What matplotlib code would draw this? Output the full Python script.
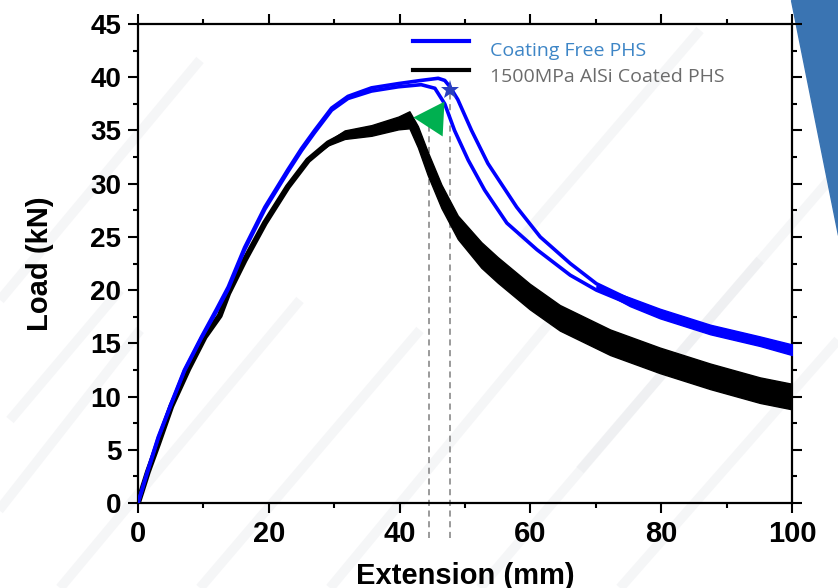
import matplotlib
matplotlib.use("Agg")
import numpy as np
import matplotlib.pyplot as plt
from matplotlib.ticker import MultipleLocator
from matplotlib.lines import Line2D
from matplotlib.patches import Polygon

plt.rcParams["font.family"] = ["Liberation Sans", "DejaVu Sans"]

# coating free PHS, specimen A (later peak) and B (earlier drop)
blue_a_x = [0, 1.5, 3.1, 5.1, 7.1, 9.7, 12.0, 13.8, 16.3, 19.4, 22.9, 25.0, 27.0, 29.6, 32.1,
            35.7, 39.8, 43.3, 45.9, 46.9, 47.7, 48.9, 51.0, 53.5, 55.0, 57.9, 61.5, 66.1,
            70.1, 75.2, 79.8, 87.5, 95.1, 100]
blue_a_y = [0, 3.1, 6.2, 9.4, 12.5, 15.6, 18.2, 20.3, 24.0, 27.8, 31.3, 33.3, 35.0, 37.1, 38.2,
            39.0, 39.4, 39.7, 39.9, 39.7, 39.1, 37.9, 35.0, 31.9, 30.5, 27.8, 25.0, 22.5,
            20.6, 19.1, 17.9, 16.5, 15.4, 14.5]
blue_b_x = [0, 1.5, 3.1, 5.1, 7.1, 9.7, 12.0, 13.8, 16.3, 19.4, 22.9, 25.0, 27.0, 29.6, 32.1,
            35.7, 39.8, 43.3, 45.4, 46.9, 48.4, 50.5, 53.0, 56.4, 61.0, 66.1, 70.1, 75.2,
            79.8, 87.5, 95.1, 100]
blue_b_y = [0, 3.0, 6.1, 9.3, 12.4, 15.5, 18.0, 20.1, 23.8, 27.6, 31.1, 33.1, 34.8, 36.9, 38.0,
            38.7, 39.1, 39.3, 38.96, 37.5, 35.0, 32.2, 29.4, 26.3, 23.8, 21.4, 20.0, 18.7,
            17.6, 16.1, 15.0, 14.2]
# noisy tail where both blue specimens merge
blue_tail_x = [70.1, 75.2, 79.8, 87.5, 95.1, 100]
blue_tail_y = [20.3, 18.9, 17.8, 16.3, 15.2, 14.4]
blue_tail_spread = [0.1, 0.4, 0.45, 0.45, 0.45, 0.5]

# 1500MPa AlSi coated PHS: mean trace and half width of the noisy band
black_x = [0, 1.5, 3.1, 5.1, 7.7, 10.2, 12.5, 13.8, 16.3, 19.4, 22.9, 26.0, 29.1, 31.6, 35.7,
           39.8, 41.5, 42.8, 44.3, 46.4, 48.9, 52.5, 55.0, 59.9, 64.5, 72.2, 79.8, 87.5,
           95.1, 100]
black_y = [0, 2.9, 5.6, 9.1, 12.6, 15.6, 17.6, 19.7, 22.8, 26.3, 29.7, 32.2, 33.8, 34.6, 35.0,
           35.7, 36.0, 34.4, 31.9, 28.8, 25.9, 23.3, 21.9, 19.4, 17.4, 15.1, 13.4, 11.9,
           10.6, 10.0]
black_spread = [0, 0, 0, 0, 0, 0, 0, 0, 0, 0, 0, 0, 0.2, 0.4, 0.5,
                0.6, 0.8, 1.0, 1.1, 1.1, 1.1, 1.2, 1.2, 1.2, 1.2, 1.2, 1.2, 1.2,
                1.2, 1.2]

# failure points
tri_x, tri_y = 45.1, 36.2
star_x, star_y = 47.7, 38.8
drop_lines_x = [44.5, 47.7]
drop_lines_top = [35.5, 38.8]

labels = ["Coating Free PHS", "1500MPa AlSi Coated PHS"]

fig = plt.figure(figsize=(8.38, 5.88), dpi=100)
W, H = 838, 588

# faint diagonal watermark stripes and the slide's blue corner
stripes = [(-40, 560, 140, 330), (60, 588, 300, 300), (200, 588, 420, 330), (330, 588, 560, 310),
           (480, 588, 700, 330), (620, 588, 838, 340), (0, 300, 200, 60), (520, 240, 700, 30),
           (700, 330, 838, 170), (860, 560, 960, 440), (10, 420, 120, 290), (580, 470, 760, 260)]
for x0, y0, x1, y1 in stripes:
    fig.add_artist(Line2D([x0 / W, x1 / W], [1 - y0 / H, 1 - y1 / H], transform=fig.transFigure,
                          color="#e4e6ea", lw=7, alpha=0.35, zorder=0, solid_capstyle="butt"))
fig.add_artist(Polygon([[791 / W, 1], [1, 1], [1, 1 - 235 / H]], closed=True,
                       transform=fig.transFigure, color="#3a74b2", zorder=0))

ax = fig.add_axes([138 / W, 1 - 503 / H, 654 / W, 479 / H])
ax.set_facecolor("none")

for xv, top in zip(drop_lines_x, drop_lines_top):
    ax.plot([xv, xv], [-3.3, top], color="#7f7f7f", lw=1.1, ls=(0, (4, 3)), clip_on=False, zorder=1)

bx = np.array(black_x)
by = np.array(black_y)
bs = np.array(black_spread)
ax.fill_between(bx, by - bs, by + bs, color="black", lw=1.0, zorder=2)
ax.plot(bx, by, color="black", lw=4.2, zorder=2, solid_joinstyle="round")

tx = np.array(blue_tail_x)
ty = np.array(blue_tail_y)
ts = np.array(blue_tail_spread)
ax.fill_between(tx, ty - ts, ty + ts, color="#0000ff", lw=1.0, zorder=3)
ax.plot(blue_b_x, blue_b_y, color="#0000ff", lw=2.6, zorder=3, solid_joinstyle="round")
ax.plot(blue_a_x, blue_a_y, color="#0000ff", lw=2.6, zorder=3, solid_joinstyle="round")

ax.plot([tri_x], [tri_y], marker=(3, 0, 87), ms=29, color="#00b050", mew=0, zorder=5)
ax.plot([star_x], [star_y], marker="*", ms=14, color="#2a3fbf", mew=0, zorder=6)

# legend drawn by hand: line above, text a little lower
ax.plot([0.4205, 0.506], [0.9645, 0.9645], transform=ax.transAxes, color="#0000ff", lw=3)
ax.plot([0.4205, 0.506], [0.904, 0.904], transform=ax.transAxes, color="black", lw=3)
ax.text(0.538, 0.9436, labels[0], transform=ax.transAxes, color="#3d85c6", fontsize=14,
        va="center", ha="left", family=["Open Sans", "DejaVu Sans"])
ax.text(0.538, 0.889, labels[1], transform=ax.transAxes, color="#6b6b6b", fontsize=14,
        va="center", ha="left", family=["Open Sans", "DejaVu Sans"])

ax.set_xlim(0, 100)
ax.set_ylim(0, 45)
ax.xaxis.set_major_locator(MultipleLocator(20))
ax.xaxis.set_minor_locator(MultipleLocator(10))
ax.yaxis.set_major_locator(MultipleLocator(5))
ax.yaxis.set_minor_locator(MultipleLocator(2.5))
ax.tick_params(which="both", direction="out", width=1.5, top=True, right=True)
ax.tick_params(which="major", length=7, pad=5)
ax.tick_params(which="minor", length=3.8)
for sp in ax.spines.values():
    sp.set_linewidth(1.6)
for lab in ax.get_xticklabels():
    lab.set_fontsize(21)
    lab.set_fontweight("bold")
for lab in ax.get_yticklabels():
    lab.set_fontsize(20)
    lab.set_fontweight("bold")

ax.set_xlabel("Extension (mm)", fontsize=21, fontweight="bold", labelpad=10)
ax.set_ylabel("Load (kN)", fontsize=21, fontweight="bold", labelpad=26)

fig.savefig("out.png", dpi=100)
